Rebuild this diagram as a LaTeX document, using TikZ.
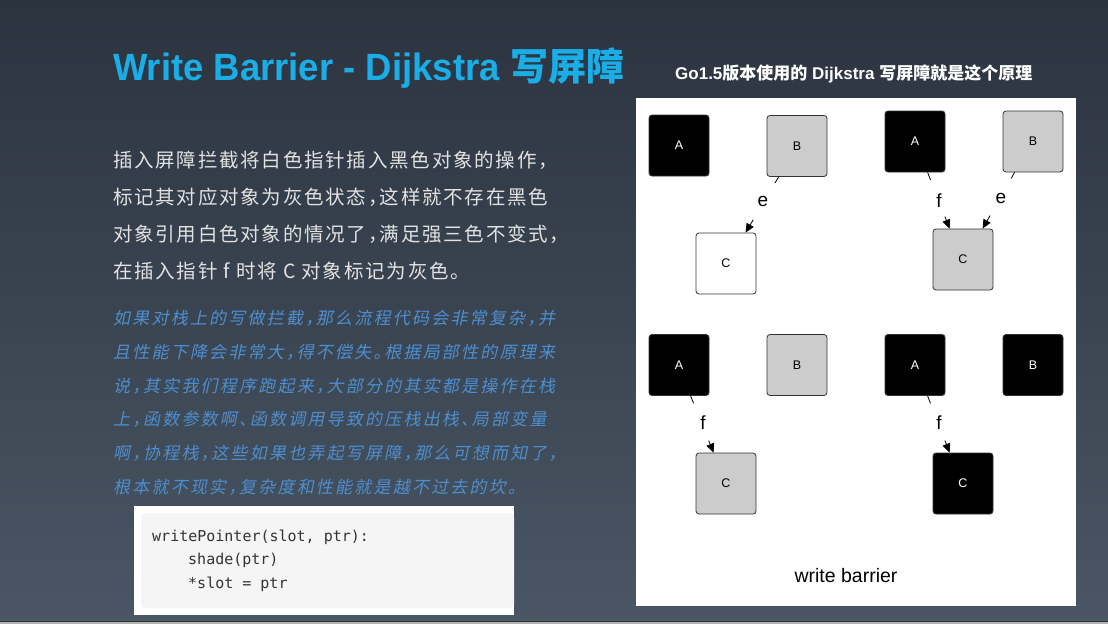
\documentclass[tikz,border=0pt]{standalone}
\usepackage{fontspec}
\setmainfont{Liberation Sans}
\setmonofont{DejaVu Sans Mono}
\newfontfamily\cjk{Noto Sans CJK SC}
\newfontfamily\cjksp{Noto Sans CJK SC}[LetterSpace=9,RawFeature={+halt}]
\newfontfamily\cjkit{Noto Sans CJK SC}[FakeSlant=0.2,LetterSpace=13,RawFeature={+halt}]
\usetikzlibrary{arrows.meta,calc}
\definecolor{bgtop}{HTML}{2B333F}
\definecolor{bgbot}{HTML}{4A5664}
\definecolor{titleblue}{HTML}{1AADE6}
\definecolor{itblue}{HTML}{4D8ECF}
\definecolor{bodytext}{HTML}{E2E2E2}
\definecolor{objgray}{HTML}{CCCCCC}
\definecolor{objline}{HTML}{333333}
\definecolor{codebg}{HTML}{F5F5F5}
\definecolor{codetext}{HTML}{333333}
\tikzset{
  obj/.style={draw=objline, line width=0.8pt, rounded corners=3pt, minimum width=60pt, minimum height=61pt, inner sep=0pt, font=\fontsize{12.5}{12.5}\selectfont},
  blk/.style={obj, fill=black, text=white},
  gry/.style={obj, fill=objgray, text=black},
  wht/.style={obj, fill=white, text=black},
  body/.style={anchor=west, inner sep=0pt, text=bodytext, font=\cjksp\fontsize{19.5}{19.5}\selectfont},
  itl/.style={anchor=west, inner sep=0pt, text=itblue, font=\cjkit\fontsize{17}{17}\selectfont},
  code/.style={anchor=west, inner sep=0pt, text=codetext, font=\ttfamily\fontsize{15}{15}\selectfont},
  lbl/.style={inner sep=0pt, font=\fontsize{19}{19}\selectfont},
  conn/.style={line width=0.8pt},
  tip/.style={line width=0.8pt, -{Triangle[length=9pt,width=8pt]}}
}
\begin{document}
\begin{tikzpicture}[x=1pt,y=-1pt]
\useasboundingbox (0,0) rectangle (1108,624);
% background
\shade[top color=bgtop, bottom color=bgbot] (0,0) rectangle (1108,621);
\fill[black!80] (0,621) rectangle (1108,622);
\fill[black!30] (0,622) rectangle (1108,624);

% title
\node[anchor=base west, inner sep=0pt, text=titleblue, font=\bfseries\fontsize{38}{38}\selectfont] (title) at (113,80)
  {\scalebox{0.96}[1]{Write Barrier - Dijkstra} {\cjk\bfseries 写屏障}};
\node[anchor=base west, inner sep=0pt, text=white, font=\bfseries\fontsize{17}{17}\selectfont] (subtitle) at (675,79)
  {Go1.5{\cjk\bfseries 版本使用的} Dijkstra {\cjk\bfseries 写屏障就是这个原理}};

% body text
\node[body] (t1) at (113,160) {插入屏障拦截将白色指针插入黑色对象的操作，};
\node[body] (t2) at (113,197) {标记其对应对象为灰色状态，这样就不存在黑色};
\node[body] (t3) at (113,234) {对象引用白色对象的情况了，满足强三色不变式，};
\node[body] (t4) at (113,271) {在插入指针 f 时将 C 对象标记为灰色。};

% italic text
\node[itl] (i1) at (113,318) {如果对栈上的写做拦截，那么流程代码会非常复杂，并};
\node[itl] (i2) at (113,352) {且性能下降会非常大，得不偿失。根据局部性的原理来};
\node[itl] (i3) at (113,386) {说，其实我们程序跑起来，大部分的其实都是操作在栈};
\node[itl] (i4) at (113,419) {上，函数参数啊、函数调用导致的压栈出栈、局部变量};
\node[itl] (i5) at (113,453) {啊，协程栈，这些如果也弄起写屏障，那么可想而知了，};
\node[itl] (i6) at (113,487) {根本就不现实，复杂度和性能就是越不过去的坎。};

% code box
\fill[white] (134,506) rectangle (514,615);
\fill[codebg, rounded corners=4pt] (141,513) rectangle (514,608);
\node[code] (c1) at (152,537) {writePointer(slot, ptr):};
\node[code] (c2) at (188,560) {shade(ptr)};
\node[code] (c3) at (188,584) {*slot = ptr};

% white panel
\fill[white] (636,98) rectangle (1076,606);

% top-left
\node[blk] (A1) at (679,145.5) {A};
\node[gry] (B1) at (797,146) {B};
\node[wht] (C1) at (726,263.5) {C};
% top-right
\node[blk] (A2) at (915,141.5) {A};
\node[gry] (B2) at (1033,141.5) {B};
\node[gry] (C2) at (963,259.5) {C};
% bottom-left
\node[blk] (A3) at (679,365) {A};
\node[gry] (B3) at (797,365) {B};
\node[gry] (C3) at (726,483.5) {C};
% bottom-right
\node[blk] (A4) at (915,365) {A};
\node[blk] (B4) at (1033,365) {B};
\node[blk] (C4) at (963,483.5) {C};

% connectors (only their ends are visible)
\coordinate (e1s) at ($(B1.south west)+(12,0)$);
\coordinate (e1t) at ($(C1.north west)+(50,0)$);
\draw[conn] (e1s) -- ($(e1s)!7pt!(e1t)$);
\draw[tip] ($(e1t)!15pt!(e1s)$) -- (e1t);
\node[lbl] (le1) at (763,201) {e};

\coordinate (f2s) at ($(A2.south west)+(43,0)$);
\coordinate (f2t) at ($(C2.north west)+(17,0)$);
\draw[conn] (f2s) -- ($(f2s)!8pt!(f2t)$);
\draw[tip] ($(f2t)!13pt!(f2s)$) -- (f2t);
\node[lbl] (lf2) at (939,201) {f};

\coordinate (e2s) at ($(B2.south west)+(12,0)$);
\coordinate (e2t) at ($(C2.north west)+(50,0)$);
\draw[conn] (e2s) -- ($(e2s)!7pt!(e2t)$);
\draw[tip] ($(e2t)!15pt!(e2s)$) -- (e2t);
\node[lbl] (le2) at (1001,198) {e};

\coordinate (f3s) at ($(A3.south west)+(42,0)$);
\coordinate (f3t) at ($(C3.north west)+(18,0)$);
\draw[conn] (f3s) -- ($(f3s)!8pt!(f3t)$);
\draw[tip] ($(f3t)!13pt!(f3s)$) -- (f3t);
\node[lbl] (lf3) at (703,423) {f};

\coordinate (f4s) at ($(A4.south west)+(43,0)$);
\coordinate (f4t) at ($(C4.north west)+(17,0)$);
\draw[conn] (f4s) -- ($(f4s)!8pt!(f4t)$);
\draw[tip] ($(f4t)!13pt!(f4s)$) -- (f4t);
\node[lbl] (lf4) at (939,423) {f};

\node[inner sep=0pt, font=\fontsize{19.5}{19.5}\selectfont] (wb) at (846,576) {write barrier};
\end{tikzpicture}
\end{document}
